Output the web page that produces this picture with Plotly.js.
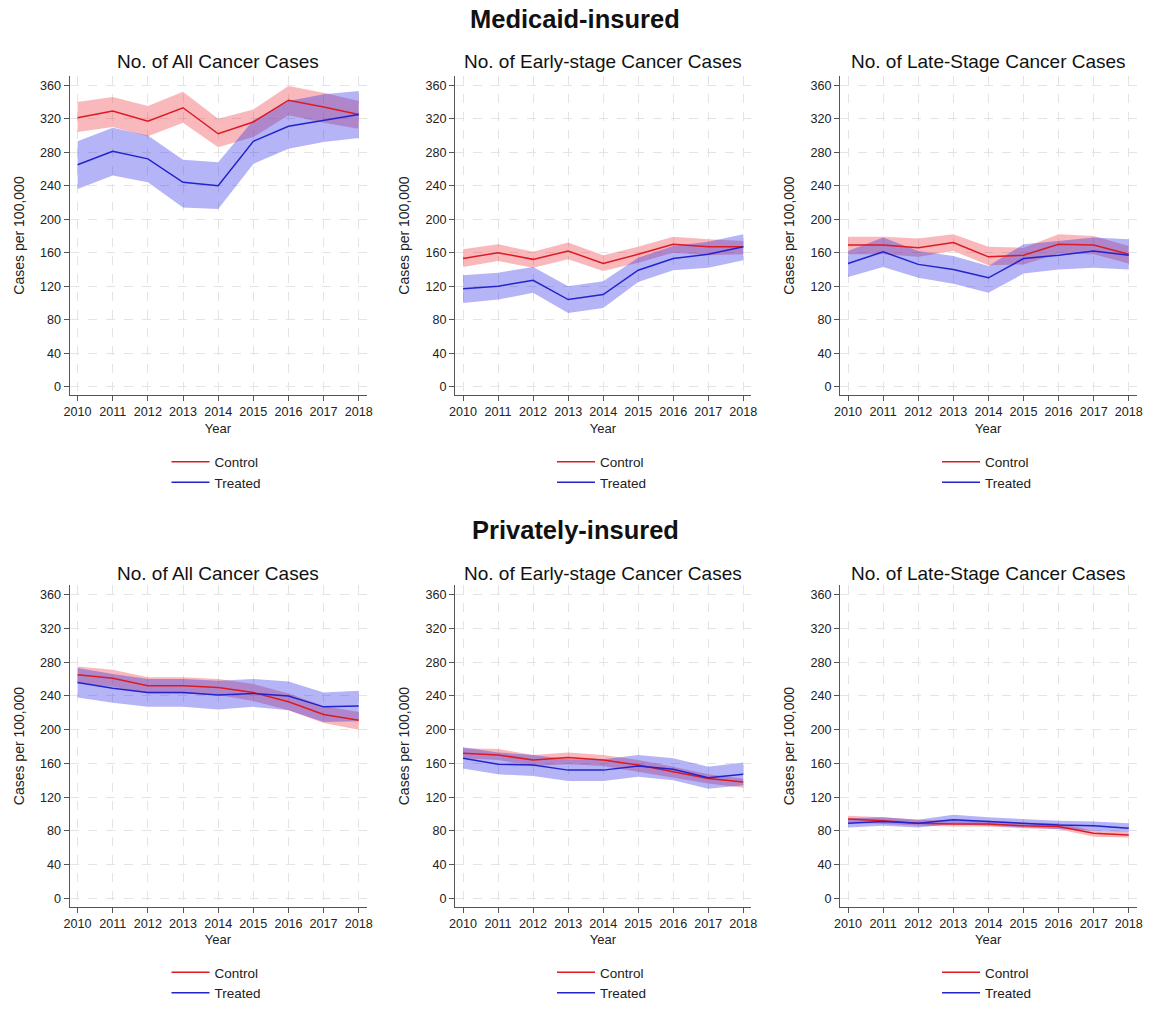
<!DOCTYPE html>
<html>
<head>
<meta charset="utf-8">
<script src="https://cdn.plot.ly/plotly-3.0.1.min.js"></script>
<style>
  html, body { margin: 0; padding: 0; background: #ffffff; }
  #chart { width: 1150px; height: 1009px; }
</style>
</head>
<body>
<div id="chart"></div>
<script>
// Years on the x axis
const years = [2010, 2011, 2012, 2013, 2014, 2015, 2016, 2017, 2018];
const yTicks = [0, 40, 80, 120, 160, 200, 240, 280, 320, 360];

// Medicaid-insured: all cancer cases
const medAllCtrl   = [321, 329, 317, 333, 302, 316, 342, 334, 325];
const medAllCtrlHi = [340, 346, 335, 352, 320, 331, 359, 351, 341];
const medAllCtrlLo = [304, 310, 299, 315, 286, 298, 324, 315, 308];
const medAllTrt    = [265, 281, 272, 244, 240, 293, 311, 318, 325];
const medAllTrtHi  = [293, 309, 300, 271, 268, 318, 341, 349, 353];
const medAllTrtLo  = [236, 252, 244, 214, 212, 266, 284, 292, 297];

// Medicaid-insured: early-stage cancer cases
const medEarlyCtrl   = [153, 160, 152, 162, 147, 158, 170, 167, 167];
const medEarlyCtrlHi = [164, 170, 161, 172, 157, 167, 179, 176, 174];
const medEarlyCtrlLo = [143, 150, 142, 152, 138, 148, 160, 157, 158];
const medEarlyTrt    = [117, 120, 127, 104, 110, 139, 153, 158, 167];
const medEarlyTrtHi  = [133, 136, 143, 120, 126, 154, 168, 173, 182];
const medEarlyTrtLo  = [100, 104, 112,  88,  94, 125, 139, 142, 151];

// Medicaid-insured: late-stage cancer cases
const medLateCtrl   = [169, 169, 166, 172, 155, 157, 170, 169, 158];
const medLateCtrlHi = [179, 179, 177, 182, 167, 166, 182, 180, 168];
const medLateCtrlLo = [158, 158, 155, 162, 145, 146, 159, 158, 147];
const medLateTrt    = [147, 161, 146, 140, 130, 153, 157, 162, 157];
const medLateTrtHi  = [162, 178, 162, 156, 144, 170, 174, 178, 176];
const medLateTrtLo  = [131, 143, 130, 123, 112, 135, 140, 142, 140];

// Privately-insured: all cancer cases
const privAllCtrl   = [265, 261, 252, 252, 250, 244, 233, 218, 211];
const privAllCtrlHi = [275, 271, 262, 262, 260, 254, 243, 228, 221];
const privAllCtrlLo = [255, 251, 243, 243, 241, 234, 223, 208, 200];
const privAllTrt    = [256, 249, 244, 244, 241, 243, 240, 227, 228];
const privAllTrtHi  = [273, 266, 260, 260, 258, 260, 257, 244, 246];
const privAllTrtLo  = [238, 232, 227, 227, 224, 227, 223, 209, 210];

// Privately-insured: early-stage cancer cases
const privEarlyCtrl   = [172, 170, 164, 167, 164, 158, 150, 142, 138];
const privEarlyCtrlHi = [178, 177, 170, 173, 170, 164, 156, 147, 142];
const privEarlyCtrlLo = [166, 164, 157, 159, 157, 150, 143, 136, 131];
const privEarlyTrt    = [166, 159, 158, 152, 152, 157, 153, 143, 147];
const privEarlyTrtHi  = [179, 173, 170, 165, 165, 170, 166, 156, 161];
const privEarlyTrtLo  = [154, 147, 145, 139, 139, 144, 140, 130, 134];

// Privately-insured: late-stage cancer cases
const privLateCtrl   = [94, 92, 89, 88, 88, 86, 85, 77, 75];
const privLateCtrlHi = [98, 96, 93, 92, 92, 90, 89, 80, 78];
const privLateCtrlLo = [90, 88, 86, 85, 85, 83, 82, 73, 72];
const privLateTrt    = [89, 91, 89, 93, 91, 89, 87, 86, 83];
const privLateTrtHi  = [95, 96, 93, 99, 96, 94, 92, 91, 89];
const privLateTrtLo  = [84, 86, 84, 88, 86, 84, 82, 80, 78];

const panelTitles = [
  'No. of All Cancer Cases', 'No. of Early-stage Cancer Cases', 'No. of Late-Stage Cancer Cases',
  'No. of All Cancer Cases', 'No. of Early-stage Cancer Cases', 'No. of Late-Stage Cancer Cases'
];
const groupTitles = ['Medicaid-insured', 'Privately-insured'];
const seriesNames = ['Control', 'Treated'];

const panels = [
  { ctrl: medAllCtrl,    ctrlHi: medAllCtrlHi,    ctrlLo: medAllCtrlLo,    trt: medAllTrt,    trtHi: medAllTrtHi,    trtLo: medAllTrtLo },
  { ctrl: medEarlyCtrl,  ctrlHi: medEarlyCtrlHi,  ctrlLo: medEarlyCtrlLo,  trt: medEarlyTrt,  trtHi: medEarlyTrtHi,  trtLo: medEarlyTrtLo },
  { ctrl: medLateCtrl,   ctrlHi: medLateCtrlHi,   ctrlLo: medLateCtrlLo,   trt: medLateTrt,   trtHi: medLateTrtHi,   trtLo: medLateTrtLo },
  { ctrl: privAllCtrl,   ctrlHi: privAllCtrlHi,   ctrlLo: privAllCtrlLo,   trt: privAllTrt,   trtHi: privAllTrtHi,   trtLo: privAllTrtLo },
  { ctrl: privEarlyCtrl, ctrlHi: privEarlyCtrlHi, ctrlLo: privEarlyCtrlLo, trt: privEarlyTrt, trtHi: privEarlyTrtHi, trtLo: privEarlyTrtLo },
  { ctrl: privLateCtrl,  ctrlHi: privLateCtrlHi,  ctrlLo: privLateCtrlLo,  trt: privLateTrt,  trtHi: privLateTrtHi,  trtLo: privLateTrtLo }
];

const W = 1150, H = 1009;
const px = v => v / W;
const py = v => 1 - v / H;

// Plot-area placement in pixels
const colX = [[69.5, 366.5], [455, 751], [840, 1136.5]];
const rowY = [[76.7, 399], [591.3, 915.8]];
const legendTop = [451, 967];
const titleY = [62, 579];
const groupY = [19, 535];

const RED = '#dc1a22';
const BLUE = '#2323cc';
const RED_BAND = 'rgba(236, 40, 50, 0.33)';
const BLUE_BAND = 'rgba(40, 40, 232, 0.35)';
const FONT = 'Liberation Sans, Arial, sans-serif';
const TEXT = '#222';

const traces = [];
const layout = {
  width: W, height: H,
  margin: { l: 0, r: 0, t: 0, b: 0 },
  paper_bgcolor: '#ffffff',
  plot_bgcolor: '#ffffff',
  font: { family: FONT, size: 12.6, color: TEXT },
  showlegend: true,
  annotations: []
};

function band(xa, ya, hi, lo, color) {
  return {
    x: years.concat(years.slice().reverse()),
    y: hi.concat(lo.slice().reverse()),
    xaxis: xa, yaxis: ya,
    type: 'scatter', mode: 'lines',
    fill: 'toself', fillcolor: color,
    line: { width: 0, color: color },
    hoverinfo: 'skip', showlegend: false
  };
}

panels.forEach((p, i) => {
  const n = i + 1;
  const row = Math.floor(i / 3), col = i % 3;
  const xa = n === 1 ? 'x' : 'x' + n;
  const ya = n === 1 ? 'y' : 'y' + n;
  const lg = n === 1 ? 'legend' : 'legend' + n;

  // confidence bands first, then the two mean lines on top
  traces.push(band(xa, ya, p.ctrlHi, p.ctrlLo, RED_BAND));
  traces.push(band(xa, ya, p.trtHi, p.trtLo, BLUE_BAND));
  traces.push({
    x: years, y: p.ctrl, xaxis: xa, yaxis: ya, legend: lg,
    type: 'scatter', mode: 'lines', name: seriesNames[0],
    line: { color: RED, width: 1.5 }
  });
  traces.push({
    x: years, y: p.trt, xaxis: xa, yaxis: ya, legend: lg,
    type: 'scatter', mode: 'lines', name: seriesNames[1],
    line: { color: BLUE, width: 1.5 }
  });

  const xKey = n === 1 ? 'xaxis' : 'xaxis' + n;
  const yKey = n === 1 ? 'yaxis' : 'yaxis' + n;
  layout[xKey] = {
    domain: [px(colX[col][0]), px(colX[col][1])],
    anchor: ya,
    range: [2009.77, 2018.22],
    tickvals: years,
    ticktext: years.map(String),
    ticks: 'outside', ticklen: 5, tickcolor: '#555', tickwidth: 1,
    showline: true, linecolor: '#555', linewidth: 1,
    showgrid: true, gridcolor: '#e4e4e4', griddash: 'dash', gridwidth: 1,
    zeroline: false,
    tickfont: { family: FONT, size: 12.6, color: TEXT },
    title: { text: 'Year', font: { family: FONT, size: 13, color: TEXT }, standoff: 5 }
  };
  layout[yKey] = {
    domain: [py(rowY[row][1]), py(rowY[row][0])],
    anchor: xa,
    range: [-10, 371],
    tickvals: yTicks,
    ticks: 'outside', ticklen: 5, tickcolor: '#555', tickwidth: 1,
    showline: true, linecolor: '#555', linewidth: 1,
    showgrid: true, gridcolor: '#e4e4e4', griddash: 'dash', gridwidth: 1,
    zeroline: false,
    tickfont: { family: FONT, size: 12.6, color: TEXT },
    title: { text: 'Cases per 100,000', font: { family: FONT, size: 14, color: TEXT }, standoff: 12 }
  };
  layout[lg] = {
    x: px(colX[col][0] + 97), xanchor: 'left',
    y: py(legendTop[row]), yanchor: 'top',
    orientation: 'v',
    itemwidth: 38,
    bgcolor: 'rgba(0,0,0,0)', borderwidth: 0,
    font: { family: FONT, size: 13.5, color: TEXT },
    tracegroupgap: 0
  };

  layout.annotations.push({
    text: panelTitles[i],
    xref: 'paper', yref: 'paper',
    x: px((colX[col][0] + colX[col][1]) / 2), y: py(titleY[row]),
    xanchor: 'center', yanchor: 'middle', showarrow: false,
    font: { family: FONT, size: 19, color: '#111' }
  });
});

groupTitles.forEach((t, r) => {
  layout.annotations.push({
    text: '<b>' + t + '</b>',
    xref: 'paper', yref: 'paper',
    x: px(575), y: py(groupY[r]),
    xanchor: 'center', yanchor: 'middle', showarrow: false,
    font: { family: FONT, size: 25.5, color: '#111' }
  });
});

Plotly.newPlot('chart', traces, layout, { displayModeBar: false, staticPlot: true });
</script>
</body>
</html>
